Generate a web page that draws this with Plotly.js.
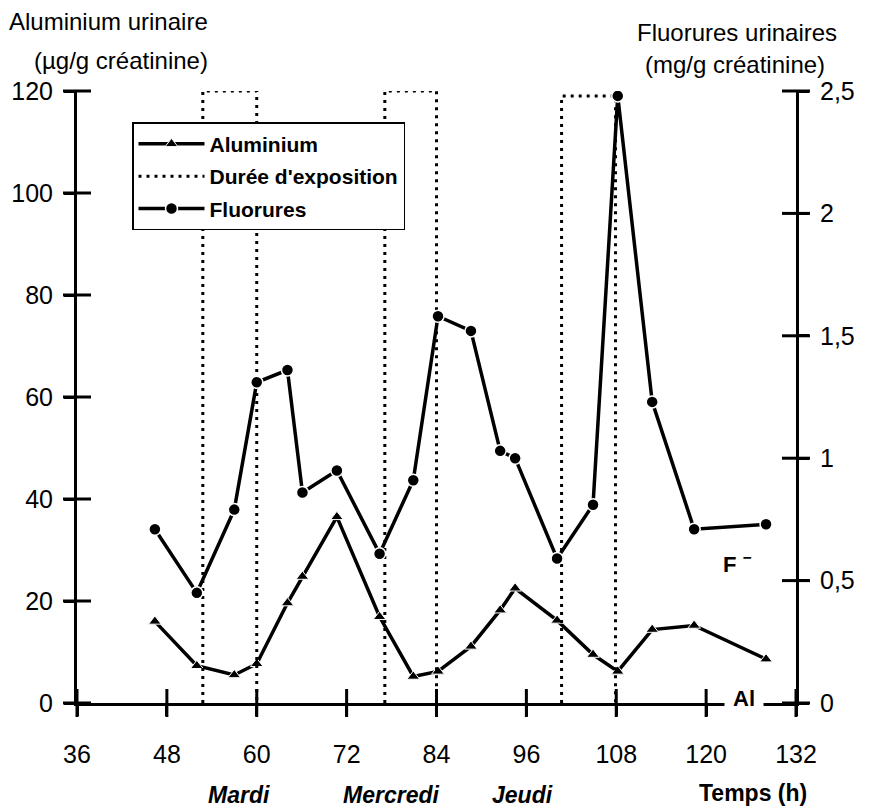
<!DOCTYPE html>
<html>
<head>
<meta charset="utf-8">
<script src="https://cdn.plot.ly/plotly-3.0.1.min.js"></script>
<style>html,body{margin:0;padding:0;background:#fff;}#chart{width:871px;height:811px;}</style>
</head>
<body>
<div id="chart"></div>
<script>
// ---- data ----
var hours = [46.4, 52, 57, 60, 64.1, 66.1, 70.7, 76.4, 80.9, 84.2, 88.6, 92.5, 94.5, 100.1, 104.9, 108.2, 112.8, 118.4, 128];
var aluminium = [16.0, 7.3, 5.5, 7.7, 19.6, 24.8, 36.5, 16.9, 5.2, 6.2, 11.1, 18.2, 22.5, 16.2, 9.5, 6.2, 14.4, 15.2, 8.6];
var fluorures = [0.71, 0.45, 0.79, 1.31, 1.36, 0.86, 0.95, 0.61, 0.91, 1.58, 1.52, 1.03, 1.00, 0.59, 0.81, 2.48, 1.23, 0.71, 0.73];
var exposureStart = [52.8, 77.1, 100.7];
var exposureEnd = [60, 84, 107.9];
var exposureTop = [120, 120, 119];
var xTicks = [36, 48, 60, 72, 84, 96, 108, 120, 132];
var leftTicks = [0, 20, 40, 60, 80, 100, 120];
var rightTicks = [0, 0.5, 1, 1.5, 2, 2.5];
var rightTickText = ['0', '0,5', '1', '1,5', '2', '2,5'];
var dayNames = ['Mardi', 'Mercredi', 'Jeudi'];
var dayCenters = [57.65, 77.9, 95.5];

var xMin = xTicks[0], xMax = xTicks[xTicks.length - 1];
var yLeftMax = leftTicks[leftTicks.length - 1], yRightMax = rightTicks[rightTicks.length - 1];

// build dotted exposure boxes
var bx = [], by = [];
for (var i = 0; i < exposureStart.length; i++) {
  bx.push(exposureStart[i], exposureStart[i], exposureEnd[i], exposureEnd[i], null);
  by.push(0, exposureTop[i], exposureTop[i], 0, null);
}

var sans = 'Liberation Sans, Arial, Helvetica, sans-serif';

// crossing tick marks ("+" style) drawn as line markers at the tick values, on the axis lines
function crossTicks(xs, ys, ya, sym) {
  return {x: xs, y: ys, xaxis: 'x', yaxis: ya, type: 'scatter', mode: 'markers', cliponaxis: false,
    marker: {symbol: sym, size: 20, color: '#000', line: {color: '#000', width: 3}},
    showlegend: false, hoverinfo: 'skip'};
}

var traces = [
  {x: hours, y: aluminium, name: 'Aluminium', type: 'scatter', mode: 'lines+markers',
   line: {color: '#000', width: 3.5}, marker: {symbol: 'triangle-up', size: 11, color: '#000', line: {color: '#fff', width: 1}},
   legendgroup: 'a', xaxis: 'x', yaxis: 'y', hoverinfo: 'skip'},
  {x: bx, y: by, name: "Durée d'exposition", type: 'scatter', mode: 'lines',
   line: {color: '#000', width: 3, dash: '3px,5px'}, legendgroup: 'b', xaxis: 'x', yaxis: 'y', hoverinfo: 'skip'},
  {x: hours, y: fluorures, name: 'Fluorures', type: 'scatter', mode: 'lines+markers',
   line: {color: '#000', width: 3.5}, marker: {symbol: 'circle', size: 12, color: '#000', line: {color: '#fff', width: 1.5}},
   legendgroup: 'c', xaxis: 'x', yaxis: 'y2', hoverinfo: 'skip'},
  crossTicks(xTicks, xTicks.map(function () { return 0; }), 'y', 'line-ns-open'),
  crossTicks(leftTicks.map(function () { return xMin; }), leftTicks, 'y', 'line-ew-open'),
  crossTicks(rightTicks.map(function () { return xMax; }), rightTicks, 'y2', 'line-ew-open')
];

var tickFont = {family: sans, size: 25, color: '#000'};
var annotations = [
  {text: 'Aluminium urinaire', xref: 'paper', yref: 'paper', x: 0.185, y: 1.113, xanchor: 'right', yanchor: 'middle', showarrow: false, font: {family: sans, size: 24, color: '#000'}},
  {text: '(µg/g créatinine)', xref: 'paper', yref: 'paper', x: 0.185, y: 1.050, xanchor: 'right', yanchor: 'middle', showarrow: false, font: {family: sans, size: 24, color: '#000'}},
  {text: 'Fluorures urinaires', xref: 'paper', yref: 'paper', x: 0.918, y: 1.096, xanchor: 'center', yanchor: 'middle', showarrow: false, font: {family: sans, size: 24, color: '#000'}},
  {text: '(mg/g créatinine)', xref: 'paper', yref: 'paper', x: 0.915, y: 1.044, xanchor: 'center', yanchor: 'middle', showarrow: false, font: {family: sans, size: 24, color: '#000'}},
  {text: 'Temps (h)', xref: 'x', yref: 'paper', x: 126.3, y: -0.147, xanchor: 'center', yanchor: 'middle', showarrow: false, font: {family: sans, size: 23, color: '#000', weight: 'bold'}},
  {text: 'F <sup>−</sup>', xref: 'x', yref: 'y', x: 122.0, y: 27.5, xanchor: 'left', yanchor: 'middle', showarrow: false, font: {family: sans, size: 22, color: '#000', weight: 'bold'}},
  {text: 'Al', xref: 'x', yref: 'y', x: 125.0, y: 0.8, xanchor: 'center', yanchor: 'middle', showarrow: false, bgcolor: '#fff', borderpad: 8, font: {family: sans, size: 22, color: '#000', weight: 'bold'}}
];
for (var d = 0; d < dayNames.length; d++) {
  annotations.push({text: dayNames[d], xref: 'x', yref: 'paper', x: dayCenters[d], y: -0.150, xanchor: 'center', yanchor: 'middle', showarrow: false,
    font: {family: sans, size: 23, color: '#000', weight: 'bold', style: 'italic'}});
}

var common = {ticks: 'outside', ticklen: 10, tickwidth: 3, tickcolor: '#000', showgrid: false, zeroline: false,
  showline: true, linewidth: 3, linecolor: '#000', tickfont: tickFont, fixedrange: true};
function ax(extra) { return Object.assign({}, common, extra); }

var layout = {
  width: 871, height: 811,
  margin: {l: 77, r: 75, t: 91, b: 108},
  paper_bgcolor: '#fff', plot_bgcolor: '#fff',
  showlegend: true,
  legend: {x: 0.0765, y: 0.949, xanchor: 'left', yanchor: 'top', bgcolor: '#fff', bordercolor: '#000', borderwidth: 1.5,
    font: {family: sans, size: 21, color: '#000', weight: 'bold'}, itemwidth: 66, traceorder: 'grouped', tracegroupgap: 2},
  xaxis: ax({range: [xMin, xMax], tickvals: xTicks, anchor: 'y', ticklabelstandoff: 17}),
  yaxis: ax({range: [0, yLeftMax], tickvals: leftTicks, anchor: 'x', side: 'left', ticklabelstandoff: 6}),
  yaxis2: ax({range: [0, yRightMax], overlaying: 'y', side: 'right', anchor: 'x', tickvals: rightTicks, ticktext: rightTickText, ticklabelstandoff: 6}),
  annotations: annotations
};

Plotly.newPlot('chart', traces, layout, {staticPlot: true, displayModeBar: false});
</script>
</body>
</html>
